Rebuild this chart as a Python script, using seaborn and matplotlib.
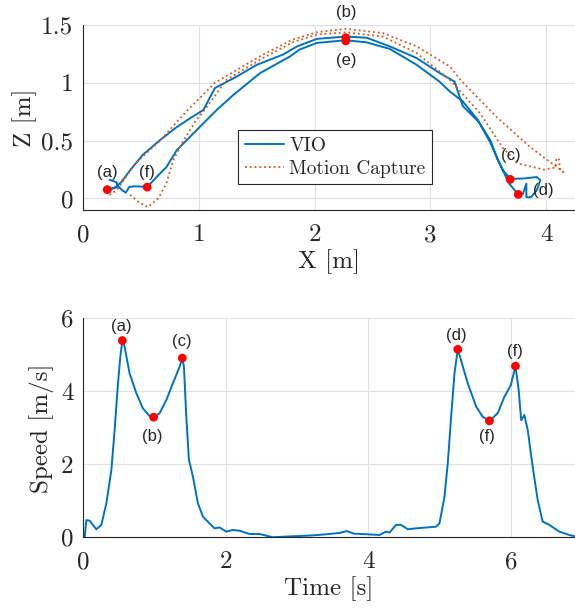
import numpy as np
import pandas as pd
import matplotlib
matplotlib.use("Agg")
import matplotlib.pyplot as plt
import seaborn as sns

# ---- top panel: X-Z trajectory ----
vio_x = [0.23, 0.29, 0.30, 0.21, 0.27, 0.33, 0.42, 0.52, 0.66, 0.80, 0.92, 1.04,
         1.14, 1.33, 1.50, 1.73, 1.85, 2.02, 2.27, 2.45, 2.65, 2.88, 3.08, 3.21,
         3.28, 3.42, 3.52, 3.58, 3.63, 3.69, 3.80, 3.92, 3.95, 3.92, 3.87, 3.83,
         3.83, 3.80, 3.76, 3.68, 3.60, 3.52, 3.41, 3.28, 3.17, 3.08, 2.88, 2.65,
         2.45, 2.27, 2.02, 1.87, 1.79, 1.53, 1.30, 1.155, 1.01, 0.81, 0.72, 0.66,
         0.555, 0.45, 0.40, 0.37, 0.34, 0.30]
vio_z = [0.16, 0.14, 0.10, 0.075, 0.09, 0.14, 0.26, 0.38, 0.50, 0.61, 0.69, 0.765,
         0.955, 1.055, 1.155, 1.245, 1.315, 1.38, 1.40, 1.39, 1.315, 1.215, 1.085, 1.01,
         0.80, 0.66, 0.50, 0.34, 0.24, 0.17, 0.172, 0.185, 0.157, 0.07, 0.011, 0.011,
         0.128, 0.04, 0.035, 0.13, 0.30, 0.48, 0.68, 0.84, 0.924, 1.01, 1.157, 1.293,
         1.35, 1.368, 1.345, 1.287, 1.229, 1.084, 0.896, 0.765, 0.62, 0.417, 0.27, 0.21,
         0.10, 0.105, 0.10, 0.05, 0.07, 0.11]

mocap_x = [0.23, 0.29, 0.45, 0.665, 0.90, 1.14, 1.53, 1.81, 2.02, 2.27, 2.59, 2.88,
           3.17, 3.26, 3.57, 3.86, 4.15, 4.12, 4.11, 4.09, 4.08, 3.98, 3.77, 3.63,
           3.43, 3.17, 2.88, 2.59, 2.27, 2.02, 1.81, 1.53, 1.24, 1.07, 0.98, 0.85,
           0.78, 0.72, 0.65, 0.56, 0.48, 0.42, 0.40]
mocap_z = [0.03, 0.07, 0.30, 0.50, 0.76, 1.00, 1.23, 1.374, 1.437, 1.467, 1.43, 1.316,
           1.14, 1.026, 0.707, 0.446, 0.229, 0.258, 0.345, 0.345, 0.267, 0.249, 0.30, 0.432,
           0.736, 1.026, 1.258, 1.40, 1.437, 1.417, 1.35, 1.20, 1.026, 0.79, 0.68, 0.47,
           0.33, 0.13, 0.0, -0.075, -0.03, 0.02, 0.04]

event_x = [0.21, 2.27, 3.69, 3.76, 2.27, 0.555]
event_z = [0.076, 1.39, 0.165, 0.035, 1.362, 0.098]
event_labels = ['(a)', '(b)', '(c)', '(d)', '(e)', '(f)']

# ---- bottom panel: speed over time ----
time_s = [0.0, 0.024, 0.047, 0.094, 0.187, 0.258, 0.328, 0.398, 0.444, 0.491, 0.524,
          0.552, 0.584, 0.654, 0.748, 0.841, 0.935, 0.991, 1.075, 1.169, 1.261, 1.355,
          1.393, 1.416, 1.449, 1.486, 1.542, 1.612, 1.682, 1.776, 1.846, 1.916, 2.01,
          2.10, 2.196, 2.336, 2.477, 2.57, 2.66, 2.85, 3.04, 3.2, 3.4, 3.6, 3.7, 3.8,
          4.0, 4.158, 4.25, 4.30, 4.39, 4.46, 4.555, 4.67, 4.95, 4.999, 5.07, 5.116,
          5.163, 5.21, 5.256, 5.30, 5.396, 5.514, 5.606, 5.70, 5.816, 5.91, 6.00,
          6.065, 6.11, 6.145, 6.19, 6.237, 6.307, 6.377, 6.447, 6.54, 6.68, 6.82, 6.89]
speed = [0.0, 0.0, 0.47, 0.455, 0.22, 0.34, 0.93, 1.84, 2.94, 4.22, 4.95,
         5.39, 5.22, 4.49, 3.95, 3.53, 3.32, 3.29, 3.40, 3.76, 4.22, 4.67,
         4.91, 4.67, 3.30, 2.12, 1.66, 0.93, 0.565, 0.38, 0.245, 0.27, 0.155,
         0.20, 0.18, 0.09, 0.09, 0.045, 0.0, 0.02, 0.035, 0.05, 0.08, 0.12, 0.17, 0.10,
         0.08, 0.063, 0.155, 0.13, 0.34, 0.34, 0.22, 0.245, 0.29, 0.38, 1.11, 2.03,
         3.30, 4.49, 5.15, 4.86, 4.22, 3.58, 3.30, 3.19, 3.40, 3.85, 4.17,
         4.69, 4.04, 3.21, 3.35, 2.94, 1.93, 1.02, 0.43, 0.34, 0.155, 0.063, 0.03]

peak_t = [0.552, 0.991, 1.393, 5.256, 5.70, 6.065]
peak_v = [5.39, 3.29, 4.91, 5.15, 3.19, 4.69]
peak_labels = ['(a)', '(b)', '(c)', '(d)', '(f)', '(f)']

traj = pd.DataFrame({'x': vio_x, 'z': vio_z})
mocap = pd.DataFrame({'x': mocap_x, 'z': mocap_z})
spd = pd.DataFrame({'t': time_s, 'v': speed})

# Style
sns.set_style("whitegrid")
plt.rcParams['font.family'] = ['cmr10']
plt.rcParams['mathtext.fontset'] = 'cm'
plt.rcParams['axes.formatter.use_mathtext'] = True

blue = '#0072BD'
orange = '#D95319'
dark = '#262626'
sans = ['Liberation Sans', 'DejaVu Sans']

fig = plt.figure(figsize=(5.75, 6.08), dpi=100)
ax1 = fig.add_axes([0.1443, 0.6546, 0.8557, 0.3043])
ax2 = fig.add_axes([0.1443, 0.1163, 0.8557, 0.3602])

sns.lineplot(data=traj, x='x', y='z', sort=False, estimator=None, color=blue,
             linewidth=1.4, label='VIO', ax=ax1)
sns.lineplot(data=mocap, x='x', y='z', sort=False, estimator=None, color=orange,
             linewidth=1.3, linestyle=':', label='Motion Capture', ax=ax1)
sns.scatterplot(x=event_x, y=event_z, color='#FF0000', s=40, edgecolor='none',
                zorder=5, ax=ax1)

top_offsets = [(0, 12.7), (0, 18), (0.7, 17.3), (17.8, 2.9), (0, -14.4), (0, 10.8)]
for xx, zz, lbl, off in zip(event_x, event_z, event_labels, top_offsets):
    ax1.annotate(lbl, (xx, zz), xytext=off, textcoords='offset points',
                 ha='center', va='center', fontsize=12, family=sans,
                 annotation_clip=False)

sns.lineplot(data=spd, x='t', y='v', sort=False, estimator=None, color=blue,
             linewidth=1.4, ax=ax2)
sns.scatterplot(x=peak_t, y=peak_v, color='#FF0000', s=40, edgecolor='none',
                zorder=5, ax=ax2)

bot_offsets = [(-0.7, 10), (-1.2, -14), (-0.7, 11.7), (-0.7, 10.3), (-1.9, -11.3), (-0.7, 10.3)]
for tt, vv, lbl, off in zip(peak_t, peak_v, peak_labels, bot_offsets):
    ax2.annotate(lbl, (tt, vv), xytext=off, textcoords='offset points',
                 ha='center', va='center', fontsize=12, family=sans,
                 annotation_clip=False)

# Axes
ax1.set_xlim(0, 4.25)
ax1.set_ylim(-0.1, 1.5)
ax1.set_xticks([0, 1, 2, 3, 4])
ax1.set_xticklabels(['0', '1', '2', '3', '4'])
ax1.set_yticks([0, 0.5, 1, 1.5])
ax1.set_yticklabels(['0', '0.5', '1', '1.5'])
ax1.set_xlabel('X [m]', fontsize=18, labelpad=2)
ax1.set_ylabel('Z [m]', fontsize=18, labelpad=3)

ax2.set_xlim(0, 6.9)
ax2.set_ylim(0, 6)
ax2.set_xticks([0, 2, 4, 6])
ax2.set_xticklabels(['0', '2', '4', '6'])
ax2.set_yticks([0, 2, 4, 6])
ax2.set_yticklabels(['0', '2', '4', '6'])
ax2.set_xlabel('Time [s]', fontsize=18, labelpad=2)
ax2.set_ylabel('Speed [m/s]', fontsize=18, labelpad=5)

for ax in (ax1, ax2):
    sns.despine(ax=ax)
    for side in ('left', 'bottom'):
        ax.spines[side].set_color(dark)
        ax.spines[side].set_linewidth(0.8)
    ax.tick_params(direction='out', length=4, width=0.8, color=dark,
                   labelcolor=dark, labelsize=18)
    ax.tick_params(axis='x', pad=6)
    ax.tick_params(axis='y', pad=3)
    ax.grid(True, color='#e0e0e0', linewidth=0.8)
    ax.xaxis.label.set_color(dark)
    ax.yaxis.label.set_color(dark)

leg = ax1.legend(loc='upper left', bbox_to_anchor=(0.315, 0.432), frameon=True,
                 fancybox=False, edgecolor=dark, framealpha=1, fontsize=14,
                 borderaxespad=0, handlelength=2.0, handletextpad=0.3,
                 borderpad=0.35, labelspacing=0.25)
leg.get_frame().set_linewidth(0.8)

fig.savefig('out.png', dpi=100)
plt.close()
